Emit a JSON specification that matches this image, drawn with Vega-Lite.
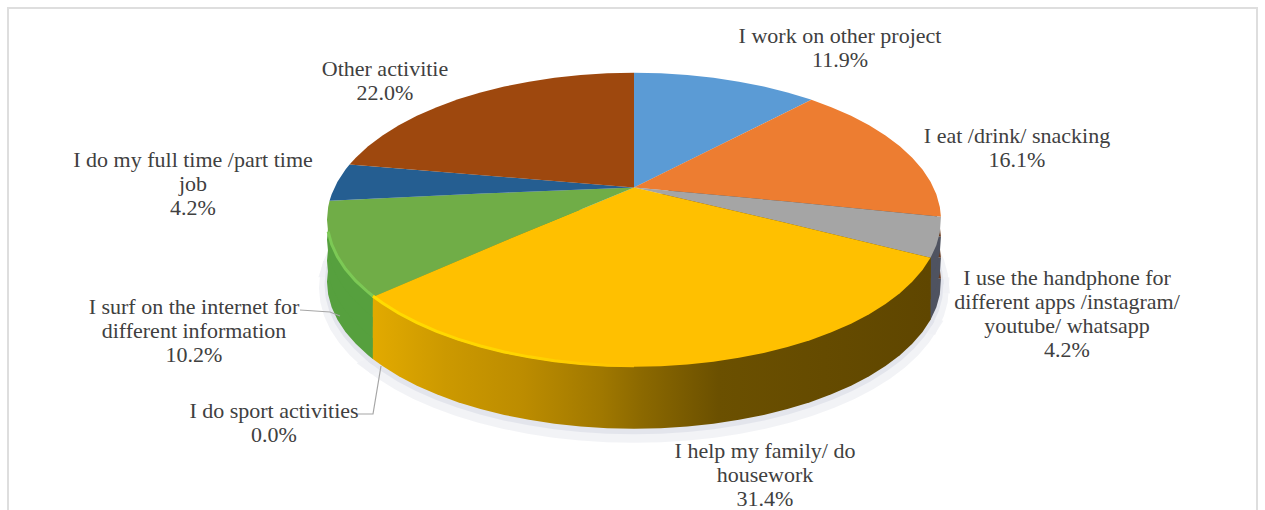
{
"$schema":"https://vega.github.io/schema/vega-lite/v6.json",
"width":1265,"height":510,"padding":0,"autosize":{"type":"none"},"background":"#ffffff",
"view":{"stroke":null},
"datasets":{
"wedges":[
{"activity":"I work on other project","share":11.9,"geometry":{"type":"Polygon","coordinates":[[[180,89.796],[180,89],[175,89],[170,89],[165,89],[160,89],[155,89],[150,89],[145,89],[144.7,89],[180,89.796]]]}},
{"activity":"I eat /drink/ snacking","share":16.1,"geometry":{"type":"Polygon","coordinates":[[[180,89.796],[144.7,89],[140,89],[135,89],[130,89],[125,89],[120,89],[115,89],[110,89],[105,89],[100,89],[95,89],[91.2,89],[180,89.796]]]}},
{"activity":"I use the handphone for different apps /instagram/ youtube/ whatsapp","share":4.2,"geometry":{"type":"Polygon","coordinates":[[[180,89.796],[91.2,89],[85,89],[80,89],[75,89],[180,89.796]]]}},
{"activity":"I help my family/ do housework","share":31.4,"geometry":{"type":"Polygon","coordinates":[[[180,89.796],[75,89],[70,89],[65,89],[60,89],[55,89],[50,89],[45,89],[40,89],[35,89],[30,89],[25,89],[20,89],[15,89],[10,89],[5,89],[0,89],[-5,89],[-10,89],[-15,89],[-20,89],[-25,89],[-30,89],[-35,89],[-40,89],[-45,89],[-50,89],[-55,89],[-58.3,89],[180,89.796]]]}},
{"activity":"I surf on the internet for different information","share":10.2,"geometry":{"type":"Polygon","coordinates":[[[180,89.796],[-58.3,89],[-60,89],[-65,89],[-70,89],[-75,89],[-80,89],[-85,89],[-90,89],[-95,89],[-97.4,89],[180,89.796]]]}},
{"activity":"I do my full time /part time job","share":4.2,"geometry":{"type":"Polygon","coordinates":[[[180,89.796],[-97.4,89],[-100,89],[-105,89],[-110,89],[-112.1,89],[180,89.796]]]}},
{"activity":"Other activitie","share":22.0,"geometry":{"type":"Polygon","coordinates":[[[180,89.796],[-112.1,89],[-115,89],[-120,89],[-125,89],[-130,89],[-135,89],[-140,89],[-145,89],[-150,89],[-155,89],[-160,89],[-165,89],[-170,89],[-175,89],[-180,89],[180,89.796]]]}}
],
"yellowSide":[
{"activity":"I help my family/ do housework","share":31.4,"geometry":{"type":"Polygon","coordinates":[[[180,89.796],[98.7,89.023],[75,89],[70,89],[65,89],[60,89],[55,89],[50,89],[45,89],[40,89],[35,89],[30,89],[25,89],[20,89],[15,89],[10,89],[5,89],[0,89],[-5,89],[-10,89],[-15,89],[-20,89],[-25,89],[-30,89],[-35,89],[-40,89],[-45,89],[-50,89],[-55,89],[-58.3,89],[-82.1,89.142],[180,89.796]]]}}
],
"edges":[
{"part":"yellow","geometry":{"type":"LineString","coordinates":[[-58.3,89],[-55,89],[-50,89],[-45,89],[-40,89],[-35,89],[-30,89],[-25,89],[-20,89],[-15,89],[-10,89],[-5,89],[0,89]]}}
],
"edgesGreen":[
{"part":"green","geometry":{"type":"LineString","coordinates":[[-58.3,89],[-60,89],[-65,89],[-70,89],[-75,89],[-80,89],[-85,89]]}}
],
"labels":[
{"label":"I work on other project\n11.9%","cx":840,"cy":36},
{"label":"I eat /drink/ snacking\n16.1%","cx":1017,"cy":136},
{"label":"I use the handphone for\ndifferent apps /instagram/\nyoutube/ whatsapp\n4.2%","cx":1067,"cy":278},
{"label":"I help my family/ do\nhousework\n31.4%","cx":765,"cy":451},
{"label":"I do sport activities\n0.0%","cx":274,"cy":411},
{"label":"I surf on the internet for\ndifferent information\n10.2%","cx":194,"cy":307},
{"label":"I do my full time /part time\njob\n4.2%","cx":193,"cy":160},
{"label":"Other activitie\n22.0%","cx":385,"cy":69}
],
"leaders":[
{"id":"surf","ord":1,"cx":300,"cy":310},{"id":"surf","ord":2,"cx":330,"cy":312},{"id":"surf","ord":3,"cx":340,"cy":316},
{"id":"sport","ord":1,"cx":358,"cy":414},{"id":"sport","ord":2,"cx":373,"cy":414},{"id":"sport","ord":3,"cx":381,"cy":366}
],
"frame":[
{"ord":1,"cx":8,"cy":510},{"ord":2,"cx":8,"cy":8},{"ord":3,"cx":1257,"cy":8},{"ord":4,"cx":1257,"cy":510}
]
},
"layer":[
{"data":{"name":"frame"},"mark":{"type":"line","stroke":"#dedede","strokeWidth":2},
 "encoding":{"x":{"field":"cx","type":"quantitative","scale":{"domain":[0,1265]},"axis":null},"y":{"field":"cy","type":"quantitative","scale":{"domain":[0,510],"range":[0,510]},"axis":null},"order":{"field":"ord"}}},

{"data":{"name":"wedges"},"mark":{"type":"geoshape","fill":"#f0f1f5","stroke":"#f0f1f5","strokeWidth":16,"opacity":0.8},"projection":{"type":"orthographic","rotate":[0,-28.6,0],"scale":17591,"translate":[634,15730],"precision":0.51},"encoding":{"shape":{"field":"geometry","type":"geojson"}}},
{"data":{"name":"wedges"},"mark":{"type":"geoshape","fill":"#e2e4ec","stroke":"#e2e4ec","strokeWidth":5,"opacity":0.9},"projection":{"type":"orthographic","rotate":[0,-28.6,0],"scale":17591,"translate":[634,15727],"precision":0.52},"encoding":{"shape":{"field":"geometry","type":"geojson"}}},

{"data":{"name":"wedges"},"transform":[{"filter":"datum.share==16.1"}],"mark":{"type":"geoshape","fill":"#6b3a1c"},"projection":{"type":"orthographic","rotate":[0,-28.6,0],"scale":17591,"translate":[634,15724],"precision":0.53},"encoding":{"shape":{"field":"geometry","type":"geojson"}}},
{"data":{"name":"wedges"},"transform":[{"filter":"datum.share==16.1"}],"mark":{"type":"geoshape","fill":"#6b3a1c"},"projection":{"type":"orthographic","rotate":[0,-28.6,0],"scale":17591,"translate":[634,15703],"precision":0.54},"encoding":{"shape":{"field":"geometry","type":"geojson"}}},
{"data":{"name":"wedges"},"transform":[{"filter":"datum.share==16.1"}],"mark":{"type":"geoshape","fill":"#6b3a1c"},"projection":{"type":"orthographic","rotate":[0,-28.6,0],"scale":17591,"translate":[634,15682],"precision":0.55},"encoding":{"shape":{"field":"geometry","type":"geojson"}}},

{"data":{"name":"wedges"},"transform":[{"filter":"indexof(datum.activity,'handphone')>=0"}],"mark":{"type":"geoshape","fill":"#4f5360"},"projection":{"type":"orthographic","rotate":[0,-28.6,0],"scale":17591,"translate":[634,15724],"precision":0.53},"encoding":{"shape":{"field":"geometry","type":"geojson"}}},
{"data":{"name":"wedges"},"transform":[{"filter":"indexof(datum.activity,'handphone')>=0"}],"mark":{"type":"geoshape","fill":"#4f5360"},"projection":{"type":"orthographic","rotate":[0,-28.6,0],"scale":17591,"translate":[634,15703],"precision":0.54},"encoding":{"shape":{"field":"geometry","type":"geojson"}}},
{"data":{"name":"wedges"},"transform":[{"filter":"indexof(datum.activity,'handphone')>=0"}],"mark":{"type":"geoshape","fill":"#4f5360"},"projection":{"type":"orthographic","rotate":[0,-28.6,0],"scale":17591,"translate":[634,15682],"precision":0.55},"encoding":{"shape":{"field":"geometry","type":"geojson"}}},

{"data":{"name":"wedges"},"transform":[{"filter":"datum.share==10.2"}],"mark":{"type":"geoshape","fill":"#56a03e"},"projection":{"type":"orthographic","rotate":[0,-28.6,0],"scale":17591,"translate":[634,15724],"precision":0.53},"encoding":{"shape":{"field":"geometry","type":"geojson"}}},
{"data":{"name":"wedges"},"transform":[{"filter":"datum.share==10.2"}],"mark":{"type":"geoshape","fill":"#56a03e"},"projection":{"type":"orthographic","rotate":[0,-28.6,0],"scale":17591,"translate":[634,15703],"precision":0.54},"encoding":{"shape":{"field":"geometry","type":"geojson"}}},
{"data":{"name":"wedges"},"transform":[{"filter":"datum.share==10.2"}],"mark":{"type":"geoshape","fill":"#56a03e"},"projection":{"type":"orthographic","rotate":[0,-28.6,0],"scale":17591,"translate":[634,15682],"precision":0.55},"encoding":{"shape":{"field":"geometry","type":"geojson"}}},

{"data":{"name":"yellowSide"},"mark":{"type":"geoshape","fill":{"gradient":"linear","x1":0,"y1":0,"x2":1,"y2":0,"stops":[{"offset":0,"color":"#e2aa00"},{"offset":0.13,"color":"#cc9900"},{"offset":0.27,"color":"#bc8c00"},{"offset":0.41,"color":"#a07800"},{"offset":0.48,"color":"#8c6900"},{"offset":0.62,"color":"#6b5000"},{"offset":1,"color":"#5f4600"}]}},"projection":{"type":"orthographic","rotate":[0,-28.6,0],"scale":17591,"translate":[634,15724],"precision":0.53},"encoding":{"shape":{"field":"geometry","type":"geojson"}}},
{"data":{"name":"yellowSide"},"mark":{"type":"geoshape","fill":{"gradient":"linear","x1":0,"y1":0,"x2":1,"y2":0,"stops":[{"offset":0,"color":"#e2aa00"},{"offset":0.13,"color":"#cc9900"},{"offset":0.27,"color":"#bc8c00"},{"offset":0.41,"color":"#a07800"},{"offset":0.48,"color":"#8c6900"},{"offset":0.62,"color":"#6b5000"},{"offset":1,"color":"#5f4600"}]}},"projection":{"type":"orthographic","rotate":[0,-28.6,0],"scale":17591,"translate":[634,15703],"precision":0.54},"encoding":{"shape":{"field":"geometry","type":"geojson"}}},
{"data":{"name":"yellowSide"},"mark":{"type":"geoshape","fill":{"gradient":"linear","x1":0,"y1":0,"x2":1,"y2":0,"stops":[{"offset":0,"color":"#e2aa00"},{"offset":0.13,"color":"#cc9900"},{"offset":0.27,"color":"#bc8c00"},{"offset":0.41,"color":"#a07800"},{"offset":0.48,"color":"#8c6900"},{"offset":0.62,"color":"#6b5000"},{"offset":1,"color":"#5f4600"}]}},"projection":{"type":"orthographic","rotate":[0,-28.6,0],"scale":17591,"translate":[634,15682],"precision":0.55},"encoding":{"shape":{"field":"geometry","type":"geojson"}}},

{"data":{"name":"wedges"},"mark":{"type":"geoshape"},"projection":{"type":"orthographic","rotate":[0,-28.6,0],"scale":17591,"translate":[634,15662],"precision":0.56},
 "encoding":{"shape":{"field":"geometry","type":"geojson"},
  "color":{"field":"activity","type":"nominal","legend":null,"scale":{"domain":["I work on other project","I eat /drink/ snacking","I use the handphone for different apps /instagram/ youtube/ whatsapp","I help my family/ do housework","I surf on the internet for different information","I do my full time /part time job","Other activitie"],"range":["#5b9bd5","#ed7d31","#a5a5a5","#ffc000","#70ad47","#255e91","#9e480e"]}}}},

{"data":{"name":"edges"},"mark":{"type":"geoshape","fill":null,"strokeWidth":3,"stroke":{"gradient":"linear","x1":0,"y1":0,"x2":1,"y2":0,"stops":[{"offset":0,"color":"#ffdc00"},{"offset":0.6,"color":"#ffd400"},{"offset":1,"color":"#ffc000"}]}},"projection":{"type":"orthographic","rotate":[0,-28.6,0],"scale":17591,"translate":[634,15661],"precision":0.57},"encoding":{"shape":{"field":"geometry","type":"geojson"}}},
{"data":{"name":"edgesGreen"},"mark":{"type":"geoshape","fill":null,"strokeWidth":3,"stroke":"#7cc955"},"projection":{"type":"orthographic","rotate":[0,-28.6,0],"scale":17591,"translate":[634,15661],"precision":0.58},"encoding":{"shape":{"field":"geometry","type":"geojson"}}},

{"data":{"name":"leaders"},"mark":{"type":"line","stroke":"#a6a6a6","strokeWidth":1.2},
 "encoding":{"x":{"field":"cx","type":"quantitative","scale":{"domain":[0,1265]},"axis":null},"y":{"field":"cy","type":"quantitative","scale":{"domain":[0,510],"range":[0,510]},"axis":null},"detail":{"field":"id"},"order":{"field":"ord"}}},
{"data":{"name":"labels"},"mark":{"type":"text","font":"Liberation Serif","fontSize":22,"lineHeight":24,"lineBreak":"\n","align":"center","baseline":"middle","color":"#404040"},
 "encoding":{"x":{"field":"cx","type":"quantitative","scale":{"domain":[0,1265]},"axis":null},"y":{"field":"cy","type":"quantitative","scale":{"domain":[0,510],"range":[0,510]},"axis":null},"text":{"field":"label"}}}
]
}
